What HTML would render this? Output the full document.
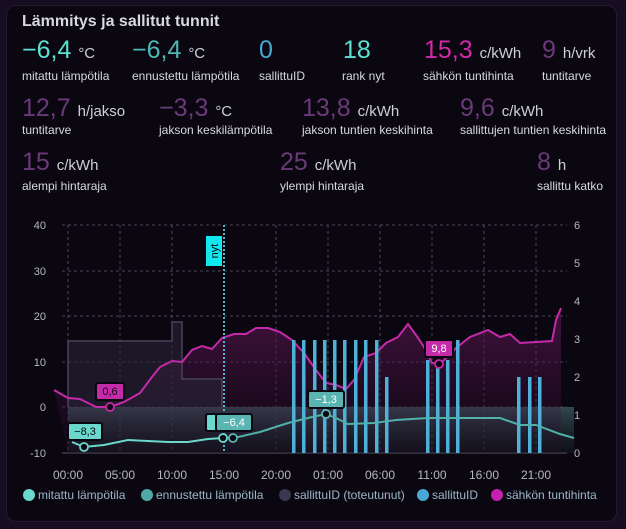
<!DOCTYPE html>
<html><head><meta charset="utf-8"><style>
body{margin:0;width:626px;height:529px;background:#160d22;font-family:"Liberation Sans",sans-serif;overflow:hidden;position:relative}
.card{position:absolute;left:6px;top:5px;width:609px;height:515px;background:#0b0711;border:1px solid #231a30;border-radius:10px}
.t{position:absolute;white-space:nowrap}
.title{left:22px;top:13px;font-size:16px;font-weight:bold;color:#d8d8de}
.v{font-size:25px;line-height:25px}
.v small{font-size:15px;color:#cfcfd6}
.l{font-size:12px;color:#d8d8de}
</style></head><body>
<div class="card"></div>
<div class="t title">Lämmitys ja sallitut tunnit</div>
<div class="t v" style="left:22px;top:38px;color:#5ce0d0">−6,4 <small>°C</small></div>
<div class="t l" style="left:22px;top:69px">mitattu lämpötila</div>
<div class="t v" style="left:132px;top:38px;color:#4fb6b4">−6,4 <small>°C</small></div>
<div class="t l" style="left:132px;top:69px">ennustettu lämpötila</div>
<div class="t v" style="left:259px;top:38px;color:#4aa8d0">0</div>
<div class="t l" style="left:259px;top:69px">sallittuID</div>
<div class="t v" style="left:343px;top:38px;color:#5ce0d0">18</div>
<div class="t l" style="left:342px;top:69px">rank nyt</div>
<div class="t v" style="left:424px;top:38px;color:#d02aa8">15,3 <small>c/kWh</small></div>
<div class="t l" style="left:423px;top:69px">sähkön tuntihinta</div>
<div class="t v" style="left:542px;top:38px;color:#6a3a78">9 <small>h/vrk</small></div>
<div class="t l" style="left:542px;top:69px">tuntitarve</div>
<div class="t v" style="left:22px;top:96px;color:#6a3a78">12,7 <small>h/jakso</small></div>
<div class="t l" style="left:22px;top:123px">tuntitarve</div>
<div class="t v" style="left:159px;top:96px;color:#6a3a78">−3,3 <small>°C</small></div>
<div class="t l" style="left:159px;top:123px">jakson keskilämpötila</div>
<div class="t v" style="left:302px;top:96px;color:#6a3a78">13,8 <small>c/kWh</small></div>
<div class="t l" style="left:302px;top:123px">jakson tuntien keskihinta</div>
<div class="t v" style="left:460px;top:96px;color:#6a3a78">9,6 <small>c/kWh</small></div>
<div class="t l" style="left:460px;top:123px">sallittujen tuntien keskihinta</div>
<div class="t v" style="left:22px;top:150px;color:#6a3a78">15 <small>c/kWh</small></div>
<div class="t l" style="left:22px;top:179px">alempi hintaraja</div>
<div class="t v" style="left:280px;top:150px;color:#6a3a78">25 <small>c/kWh</small></div>
<div class="t l" style="left:280px;top:179px">ylempi hintaraja</div>
<div class="t v" style="left:537px;top:150px;color:#6a3a78">8 <small>h</small></div>
<div class="t l" style="left:537px;top:179px">sallittu katko</div>
<svg style="position:absolute;left:0;top:0" width="626" height="529" font-family="Liberation Sans, sans-serif">
<defs>
<linearGradient id="pg" x1="0" y1="0" x2="0" y2="1"><stop offset="0" stop-color="#6a1a5e" stop-opacity="0.6"/><stop offset="1" stop-color="#2a0a28" stop-opacity="0.2"/></linearGradient>
<linearGradient id="tg" x1="0" y1="0" x2="0" y2="1"><stop offset="0" stop-color="#3a5a60" stop-opacity="0.8"/><stop offset="1" stop-color="#1a2a30" stop-opacity="0.3"/></linearGradient>
</defs>
<g stroke="#4a4456" stroke-dasharray="3,3" stroke-width="1">
<line x1="62" x2="567" y1="225" y2="225"/><line x1="62" x2="567" y1="271" y2="271"/><line x1="62" x2="567" y1="316" y2="316"/><line x1="62" x2="567" y1="362" y2="362"/><line x1="62" x2="567" y1="407" y2="407"/>
<line x1="68" x2="68" y1="225" y2="453"/><line x1="120" x2="120" y1="225" y2="453"/><line x1="172" x2="172" y1="225" y2="453"/><line x1="276" x2="276" y1="225" y2="453"/><line x1="328" x2="328" y1="225" y2="453"/><line x1="380" x2="380" y1="225" y2="453"/><line x1="432" x2="432" y1="225" y2="453"/><line x1="484" x2="484" y1="225" y2="453"/><line x1="536" x2="536" y1="225" y2="453"/>
</g>
<line x1="62" x2="567" y1="453" y2="453" stroke="#5a5466"/>
<g fill="#b8b8c0" font-size="11">
<text x="46" y="229" text-anchor="end">40</text><text x="46" y="275" text-anchor="end">30</text><text x="46" y="320" text-anchor="end">20</text><text x="46" y="366" text-anchor="end">10</text><text x="46" y="411" text-anchor="end">0</text><text x="46" y="457" text-anchor="end">-10</text>
<text x="574" y="229">6</text><text x="574" y="267">5</text><text x="574" y="305">4</text><text x="574" y="343">3</text><text x="574" y="381">2</text><text x="574" y="419">1</text><text x="574" y="457">0</text>
</g>
<g fill="#b8b8c0" font-size="12" text-anchor="middle">
<text x="68" y="479">00:00</text><text x="120" y="479">05:00</text><text x="172" y="479">10:00</text><text x="224" y="479">15:00</text><text x="276" y="479">20:00</text><text x="328" y="479">01:00</text><text x="380" y="479">06:00</text><text x="432" y="479">11:00</text><text x="484" y="479">16:00</text><text x="536" y="479">21:00</text>
</g>
<rect x="68" y="407" width="506" height="46" fill="url(#tg)"/>
<path d="M54,390 L68,398 80,399 96,407 110,407 124,402 140,393 152,377 160,367 172,361 182,362 192,350 202,346 212,349 222,338 234,334 246,334 256,328 268,328 280,332 292,340 304,353 316,370 326,383 336,385 346,389 354,380 364,357 376,353 386,343 398,337 408,324 416,335 424,347 432,363 440,364 456,348 470,337 488,330 500,337 510,334 520,343 536,342 552,341 556,320 561,308 L561,453 L68,453 Z" fill="url(#pg)"/>
<path d="M68,407 L68,341 172,341 172,322 182,322 182,379 222,379 222,407" fill="#2a2438" fill-opacity="0.6" stroke="#4a4258" stroke-width="1.5"/>
<path d="M54,390 L68,398 80,399 96,407 110,407 124,402 140,393 152,377 160,367 172,361 182,362 192,350 202,346 212,349 222,338 234,334 246,334 256,328 268,328 280,332 292,340 304,353 316,370 326,383 336,385 346,389 354,380 364,357 376,353 386,343 398,337 408,324 416,335 424,347 432,363 440,364 456,348 470,337 488,330 500,337 510,334 520,343 536,342 552,341 556,320 561,308" fill="none" stroke="#c52aa8" stroke-width="2"/>
<g fill="#4fb0d8">
<rect x="292" y="340" width="3.5" height="113"/><rect x="302" y="340" width="3.5" height="113"/><rect x="313" y="340" width="3.5" height="113"/><rect x="323" y="340" width="3.5" height="113"/><rect x="333" y="340" width="3.5" height="113"/><rect x="343" y="340" width="3.5" height="113"/><rect x="354" y="340" width="3.5" height="113"/><rect x="364" y="340" width="3.5" height="113"/><rect x="375" y="340" width="3.5" height="113"/>
<rect x="385" y="377" width="3.5" height="76"/>
<rect x="426" y="360" width="3.5" height="93"/><rect x="436" y="360" width="3.5" height="93"/><rect x="446" y="360" width="3.5" height="93"/><rect x="456" y="340" width="3.5" height="113"/>
<rect x="517" y="377" width="3.5" height="76"/><rect x="528" y="377" width="3.5" height="76"/><rect x="538" y="377" width="3.5" height="76"/>
</g>
<path d="M72,442 L84,447 104,445 128,440 168,442 188,442 208,439 223,438" fill="none" stroke="#6ad8cc" stroke-width="2"/>
<path d="M223,438 L234,438 260,432 288,423 312,417 326,414 336,418 348,424 374,423 396,420 428,418 460,418 500,418 520,425 536,425 560,434 574,438" fill="none" stroke="#50b0aa" stroke-width="2"/>
<line x1="224" y1="225" x2="224" y2="453" stroke="#4ab8c8" stroke-width="2" stroke-dasharray="2,2"/>
<rect x="206" y="236" width="16" height="30" fill="#10e8f0"/>
<text transform="translate(218,251) rotate(-90)" font-size="11" fill="#0a0a10" text-anchor="middle">nyt</text>
<g stroke="#0b0711" stroke-width="2">
<rect x="68" y="423" width="34" height="17" rx="2" fill="#6ad8cc"/>
<rect x="96" y="383" width="28" height="17" rx="2" fill="#c52aa8"/>
<rect x="206" y="414" width="12" height="17" rx="2" fill="#6ad8cc"/>
<rect x="216" y="414" width="36" height="17" rx="2" fill="#5ab4b2"/>
<rect x="308" y="391" width="36" height="17" rx="2" fill="#5ab4b2"/>
<rect x="425" y="340" width="28" height="17" rx="2" fill="#c52aa8"/>
</g>
<g font-size="11" fill="#0a0a10" text-anchor="middle">
<text x="85" y="435">−8,3</text><text x="110" y="395">0,6</text><text x="234" y="426" fill="#fff">−6,4</text><text x="326" y="403" fill="#fff">−1,3</text><text x="439" y="352" fill="#fff">9,8</text>
</g>
<g fill="#0b0711" stroke-width="1.8">
<circle cx="84" cy="447" r="4" stroke="#6ad8cc"/><circle cx="110" cy="407" r="4" stroke="#c52aa8"/><circle cx="223" cy="438" r="4" stroke="#6ad8cc"/><circle cx="233" cy="438" r="4" stroke="#5ab4b2"/><circle cx="326" cy="414" r="4" stroke="#5ab4b2"/><circle cx="439" cy="364" r="4" stroke="#c52aa8"/>
</g>
<g font-size="12">
<circle cx="29" cy="495" r="6" fill="#6ad8cc"/><text x="38" y="499" fill="#9ab8c8">mitattu lämpötila</text>
<circle cx="147" cy="495" r="6" fill="#50a8a8"/><text x="156" y="499" fill="#9ab8c8">ennustettu lämpötila</text>
<circle cx="285" cy="495" r="6" fill="#3a3850"/><text x="294" y="499" fill="#9ab8c8">sallittuID (toteutunut)</text>
<circle cx="423" cy="495" r="6" fill="#4aa8d8"/><text x="432" y="499" fill="#9ab8c8">sallittuID</text>
<circle cx="497" cy="495" r="6" fill="#c520b0"/><text x="506" y="499" fill="#9ab8c8">sähkön tuntihinta</text>
</g>
</svg>
</body></html>
